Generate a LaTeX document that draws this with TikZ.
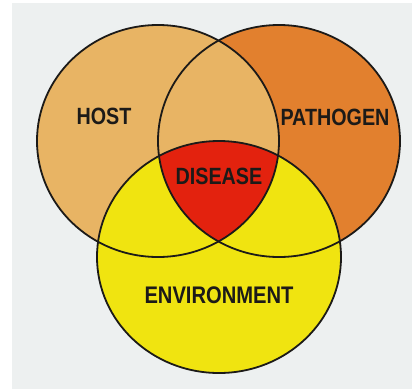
\documentclass[tikz,border=0pt]{standalone}
\usepackage{fontspec}
\newfontfamily\vennfont{Liberation Sans}[FakeStretch=0.84]
\usetikzlibrary{positioning}

\definecolor{bgcol}{HTML}{EDF0F0}
\definecolor{hostcol}{HTML}{E8B464}
\definecolor{pathcol}{HTML}{E2802E}
\definecolor{envcol}{HTML}{F0E410}
\definecolor{diseasecol}{HTML}{E3220E}
\definecolor{inkcol}{HTML}{1C1A18}

\tikzset{
  ring/.style={draw=inkcol, line width=1.8pt},
  lbl/.style={font=\vennfont\bfseries\fontsize{23.5}{23.5}\selectfont, text=inkcol, inner sep=0pt}
}

\begin{document}
\begin{tikzpicture}[x=1pt,y=-1pt]
\useasboundingbox (0,0) rectangle (412,389);
\fill[white] (0,0) rectangle (412,389);
\fill[bgcol] (12,3) rectangle (412,389);

\coordinate (host) at (158,141);
\coordinate (path) at (279,141);
\coordinate (env) at (219,257);

% fills
\fill[pathcol] (path) ellipse (121 and 116);
\fill[hostcol] (host) ellipse (121 and 116);
\fill[envcol] (env) ellipse (122 and 116);
  % all three
\begin{scope}
\clip (host) ellipse (121 and 116);
\clip (path) ellipse (121 and 116);
\fill[diseasecol] (env) ellipse (122 and 116);
\end{scope}

% outlines
\draw[ring] (host) ellipse (121 and 116);
\draw[ring] (path) ellipse (121 and 116);
\draw[ring] (env) ellipse (122 and 116);

\node[lbl] (hostlbl) at (104,116) {HOST};
\node[lbl] (pathlbl) at (335,117) {PATHOGEN};
\node[lbl] (diseaselbl) at (219,176) {DISEASE};
\node[lbl, font=\vennfont\bfseries\fontsize{24}{24}\selectfont] (envlbl) at (219,295) {ENVIRONMENT};

\end{tikzpicture}
\end{document}
